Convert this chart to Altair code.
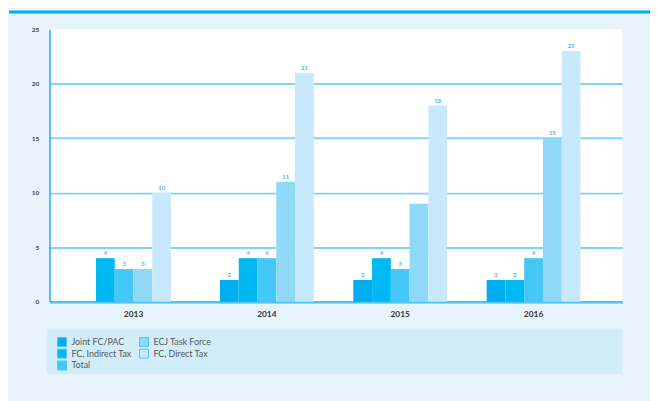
import altair as alt
import pandas as pd

years = ["2013", "2014", "2015", "2016"]
series = ["Joint FC/PAC", "FC, Indirect Tax", "Total", "ECJ Task Force", "FC, Direct Tax"]
joint_fc_pac = [None, 2, 2, 2]
fc_indirect_tax = [4, 4, 4, 2]
total = [3, 4, 3, 4]
ecj_task_force = [3, 11, 9, 15]
fc_direct_tax = [10, 21, 18, 23]
ecj_labels = ["3", "11", "", "15"]
colors = ["#00aeef", "#00b9f2", "#45c8f5", "#8fd8f7", "#c7e9fb"]

values = [joint_fc_pac, fc_indirect_tax, total, ecj_task_force, fc_direct_tax]
rows = []
for yi, yr in enumerate(years):
    present = [si for si in range(len(series)) if values[si][yi] is not None]
    n = len(present)
    for rank, si in enumerate(present):
        v = values[si][yi]
        lab = ecj_labels[yi] if series[si] == "ECJ Task Force" else str(v)
        rows.append({"year": yr, "series": series[si], "value": v,
                     "label": lab, "slot": rank - (n - 1) / 2})
df = pd.DataFrame(rows)

FONT = "Lato"

x_enc = alt.X("year:N", title=None,
              scale=alt.Scale(paddingInner=0, paddingOuter=0.148, align=0.44),
              axis=alt.Axis(labelAngle=0, labelFontSize=8.5, labelFontWeight="bold",
                            labelColor="#333333", labelPadding=8, ticks=False,
                            domainColor="#4fc3f4", domainWidth=2.5, labelFont=FONT))
xo_enc = alt.XOffset("slot:Q", scale=alt.Scale(domain=[-3.553, 3.553]))
y_enc = alt.Y("value:Q", title=None, scale=alt.Scale(domain=[0, 25]),
              axis=alt.Axis(values=[0, 5, 10, 15, 20, 25], labelFontSize=6.5,
                            labelFontWeight="bold", labelColor="#444444",
                            labelPadding=11, ticks=False, domainColor="#1fb0ee",
                            domainWidth=1.5, gridColor="#80d4f4", gridWidth=2,
                            gridOpacity={"condition": {"test": "datum.value >= 25", "value": 0}, "value": 1},
                            labelFont=FONT))

base = alt.Chart(df)
bars = base.mark_bar(size=19).encode(
    x=x_enc, xOffset=xo_enc, y=y_enc,
    color=alt.Color("series:N",
                    scale=alt.Scale(domain=series, range=colors),
                    legend=alt.Legend(orient="none", legendX=7.7, legendY=311.5, columns=2,
                                      title=None, symbolType="square", symbolSize=81,
                                      symbolStrokeColor="#4cc4f2", symbolStrokeWidth=1,
                                      symbolOpacity=1, labelFontSize=9, labelColor="#555555",
                                      labelFont=FONT, rowPadding=-2.5, columnPadding=5,
                                      labelOffset=4.5, padding=0)),
)
texts = base.mark_text(fontSize=6, fontWeight="bold", color="#3bbcf0", baseline="bottom",
                       dy=-2, font=FONT).encode(x=x_enc, xOffset=xo_enc, y=y_enc, text="label:N")

deco = alt.Chart(pd.DataFrame({"k": [0]}))
legend_box = deco.mark_rect(color="#d1edfa").encode(
    x=alt.value(-3), x2=alt.value(580), y=alt.value(303), y2=alt.value(349))
top_bar = deco.mark_rect(color="#00b0f0").encode(
    x=alt.value(-41), x2=alt.value(608), y=alt.value(-19), y2=alt.value(-16))

chart = alt.layer(legend_box, top_bar, bars, texts).properties(
    width=580, height=276,
    padding={"left": 42, "top": 19, "right": 28, "bottom": 98},
    autosize=alt.AutoSizeParams(type="none"),
    background="#e7f4fc",
).configure_view(fill="white", strokeWidth=0)

chart.save("out.html", embed_options={"renderer": "svg", "actions": False})
